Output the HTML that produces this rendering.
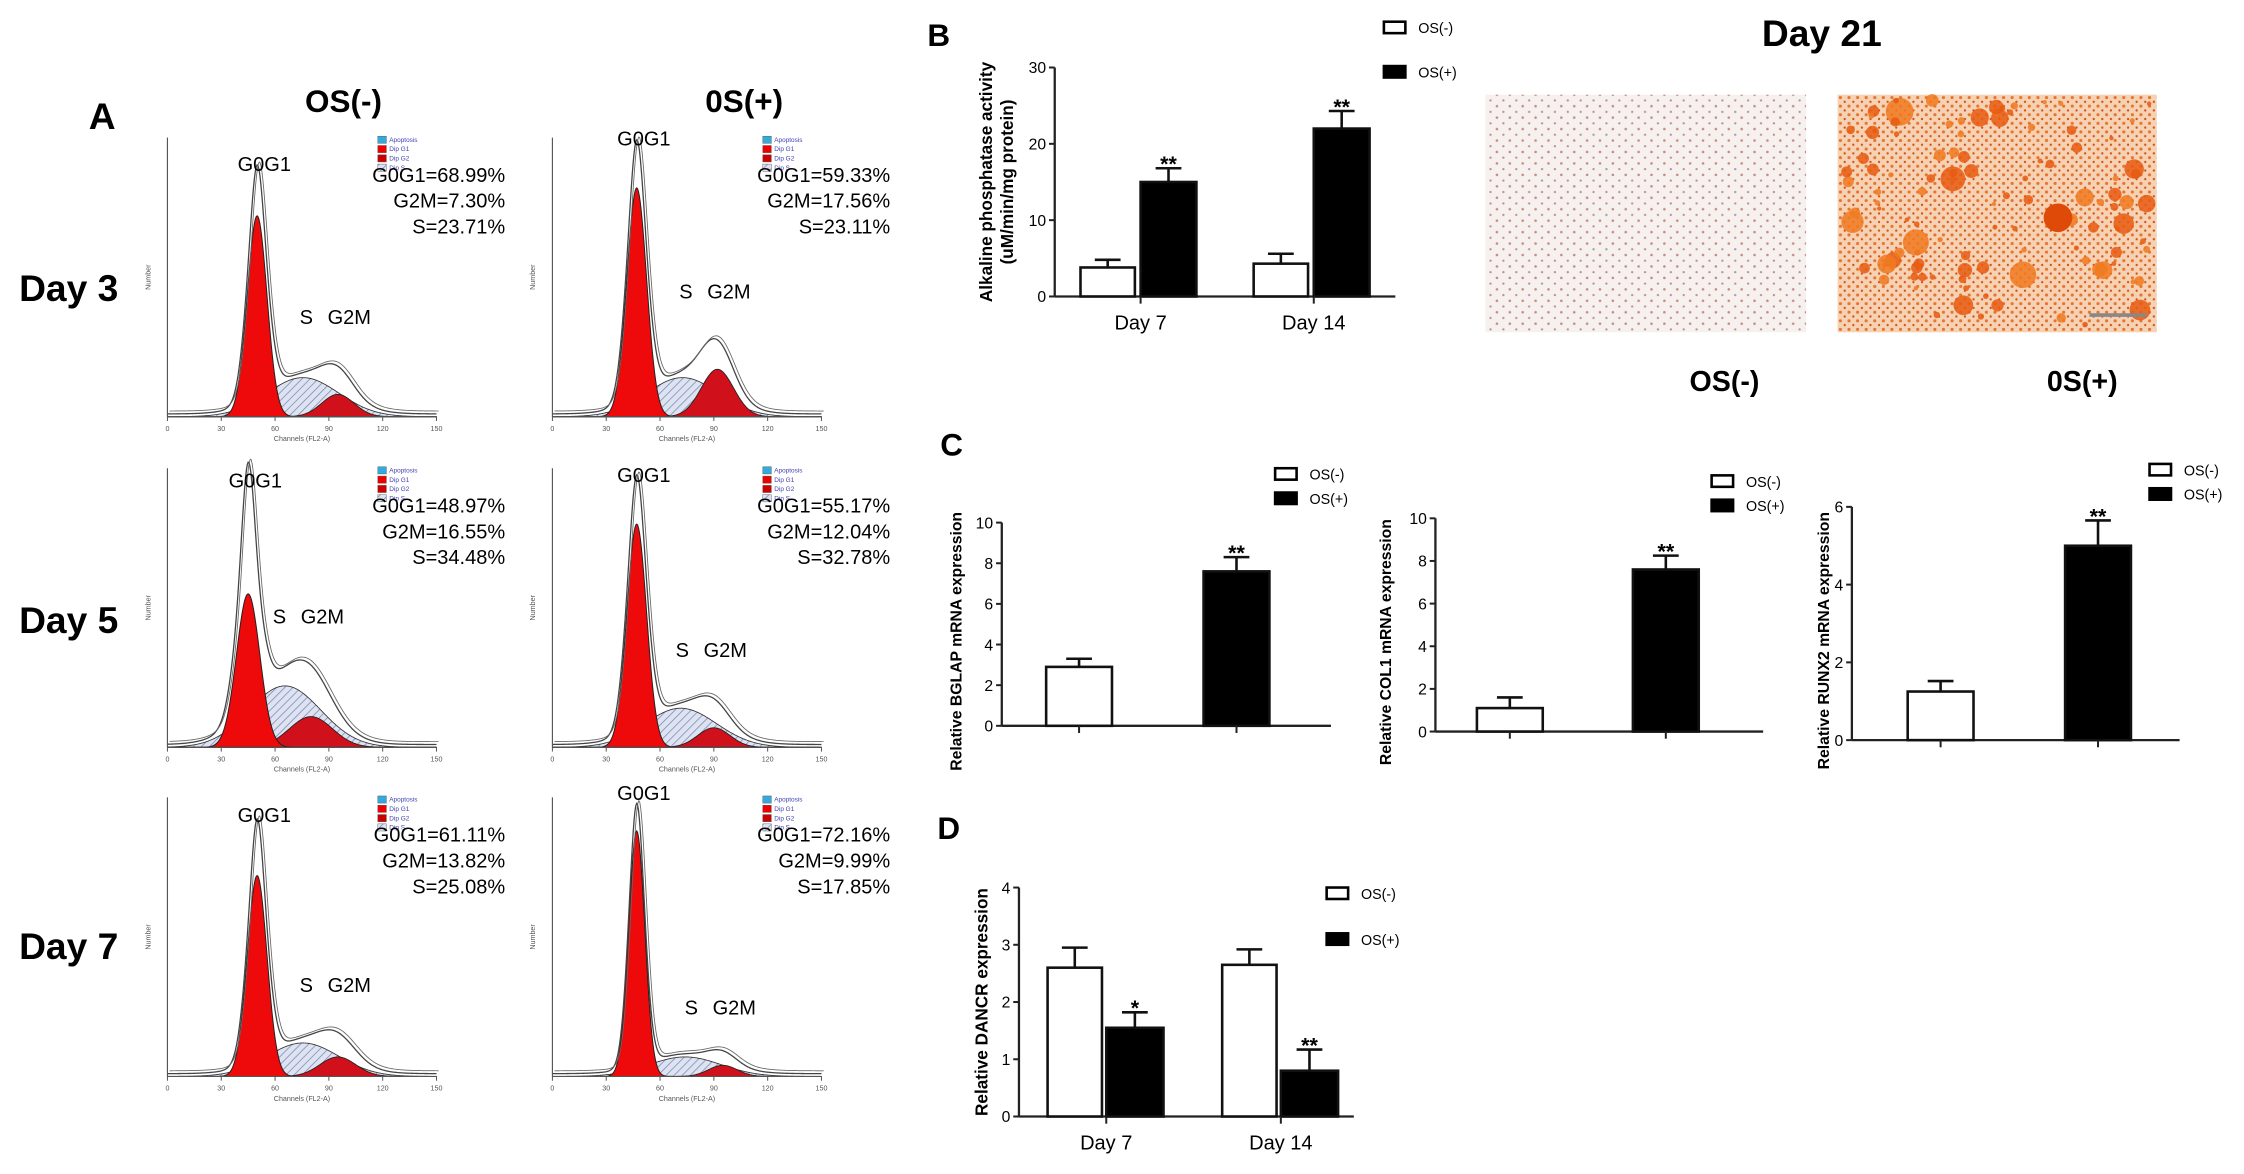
<!DOCTYPE html>
<html><head><meta charset="utf-8"><style>
html,body{margin:0;padding:0;background:#fff;}
svg{display:block;font-family:"Liberation Sans",Arial,sans-serif;}
</style></head><body>
<svg id="fig" width="2244" height="1174" viewBox="0 0 1568 820" xmlns="http://www.w3.org/2000/svg">
<defs>
<pattern id="hatch" patternUnits="userSpaceOnUse" width="4" height="4" patternTransform="rotate(45)">
<rect width="4" height="4" fill="#dde3f0"/><line x1="0" y1="0" x2="0" y2="4" stroke="#7784b0" stroke-width="1"/></pattern>
<pattern id="dots" patternUnits="userSpaceOnUse" width="9" height="8">
<rect width="9" height="8" fill="#f6f1ee"/><circle cx="2" cy="2" r="0.9" fill="#c58a80"/><circle cx="6.5" cy="6" r="0.8" fill="#b89090"/></pattern>
<pattern id="dots2" patternUnits="userSpaceOnUse" width="6" height="6">
<rect width="6" height="6" fill="#f6d2b4"/><circle cx="2" cy="2" r="1.1" fill="#e8742c"/><circle cx="5" cy="5" r="0.8" fill="#d0501a"/></pattern>
</defs>
<g id="root"></g>
</svg>
<script>
// ---- Panel A flow-cytometry parameters [G0G1 center, G0G1 height, G0G1 sd, outline peak, S height, G2M center, G2M height, G2M sd]
const histParams = [
 [50,0.72,5.5,0.83,0.14,95,0.08,9],[47,0.82,5.5,0.92,0.14,92,0.17,9],
 [45,0.55,6.5,0.88,0.22,80,0.11,12],[47,0.80,5.5,0.90,0.14,90,0.07,9],
 [50,0.72,5.5,0.86,0.12,95,0.07,10],[47,0.88,4.5,0.94,0.07,95,0.04,8]];
const statsText = [
 ["G0G1=68.99%","G2M=7.30%","S=23.71%"],["G0G1=59.33%","G2M=17.56%","S=23.11%"],
 ["G0G1=48.97%","G2M=16.55%","S=34.48%"],["G0G1=55.17%","G2M=12.04%","S=32.78%"],
 ["G0G1=61.11%","G2M=13.82%","S=25.08%"],["G0G1=72.16%","G2M=9.99%","S=17.85%"]];
const chanTicks = [0,30,60,90,120,150];
// ---- Panel B ALP
const alpCats = ["Day 7","Day 14"];
const alpNeg = [3.8,4.3], alpNegErr=[4.8,5.6];
const alpPos = [15,22], alpPosErr=[16.8,24.3];
const alpTicks=[0,10,20,30];
// ---- Panel C
const cTitles=["Relative BGLAP mRNA expression","Relative COL1 mRNA expression","Relative RUNX2 mRNA expression"];
const cNeg=[2.9,1.1,1.25], cNegErr=[3.3,1.6,1.52];
const cPos=[7.6,7.6,5.0], cPosErr=[8.3,8.25,5.65];
const cTicks=[[0,2,4,6,8,10],[0,2,4,6,8,10],[0,2,4,6]];
// ---- Panel D
const dCats=["Day 7","Day 14"];
const dNeg=[2.6,2.65], dNegErr=[2.95,2.92];
const dPos=[1.55,0.8], dPosErr=[1.82,1.17];
const dStars=["*","**"];
const dTicks=[0,1,2,3,4];

const NS="http://www.w3.org/2000/svg";
const root=document.getElementById('root');
function el(tag,attrs,parent,text){const e=document.createElementNS(NS,tag);for(const k in attrs)e.setAttribute(k,attrs[k]);if(text!==undefined)e.textContent=text;(parent||root).appendChild(e);return e;}

let t;
t=el('text',{x:62,y:90,'font-size':26,'font-weight':'bold'},root,'A');

t=el('text',{x:240,y:78,'font-size':22,'font-weight':'bold','text-anchor':'middle'},root,'OS(-)');

t=el('text',{x:520,y:78,'font-size':22,'font-weight':'bold','text-anchor':'middle'},root,'0S(+)');

const dayRows=["Day 3","Day 5","Day 7"], dayY=[210,442,670];
dayRows.forEach((d,i)=>{t=el('text',{x:48,y:dayY[i],'font-size':26,'font-weight':'bold','text-anchor':'middle'},root,d);
});

const colX=[117,386], rowBase=[291,522,752], PW=188, PH=195;
function gauss(x,c,s){return Math.exp(-0.5*((x-c)/s)**2);}
histParams.forEach((p,idx)=>{
 const r=Math.floor(idx/2), c=idx%2, x0=colX[c], yb=rowBase[r];
 const g=el('g',{},root);
 
 const X=ch=>x0+ch/150*PW, Y=v=>yb-v*PH;
 const [gc,gh,gs,op,sh,g2c,g2h,g2s]=p;
 const sFun=ch=>sh*gauss(ch,(gc+g2c)/2+3,20);
 const mk=f=>{let d=`M${X(0)},${yb}`;for(let ch=0;ch<=150;ch+=0.5)d+=` L${X(ch).toFixed(2)},${Y(f(ch)).toFixed(2)}`;return d+` L${X(150)},${yb}Z`;};
 let e=el('path',{d:mk(sFun),fill:'url(#hatch)',stroke:'#333','stroke-width':0.6},g);
 
 e=el('path',{d:mk(ch=>g2h*gauss(ch,g2c,g2s)),fill:'#d0101a',stroke:'#222','stroke-width':0.6},g);
 
 e=el('path',{d:mk(ch=>gh*gauss(ch,gc,gs)),fill:'#ee0a0a',stroke:'#222','stroke-width':0.7},g);
 
 const tot=ch=>gh*gauss(ch,gc,gs)+(op-gh)*gauss(ch,gc,gs*0.5)+sFun(ch)+g2h*gauss(ch,g2c,g2s)*1.05+0.01;
 let d='';for(let ch=0;ch<=150;ch+=0.5)d+=(ch?' L':'M')+X(ch).toFixed(2)+','+Y(tot(ch)).toFixed(2);
 e=el('path',{d:d,fill:'none',stroke:'#444','stroke-width':0.9},g);
 
 el('path',{d:d,fill:'none',stroke:'#666','stroke-width':0.6,transform:'translate(1.5,-2)'},g);
 el('line',{x1:x0,y1:yb,x2:x0+PW,y2:yb,stroke:'#555','stroke-width':0.8},g);
 el('line',{x1:x0,y1:yb,x2:x0,y2:yb-PH,stroke:'#555','stroke-width':0.8},g);
 chanTicks.forEach(v=>{el('line',{x1:X(v),y1:yb,x2:X(v),y2:yb+3,stroke:'#555','stroke-width':0.7},g);
  el('text',{x:X(v),y:yb+10,'font-size':5,'text-anchor':'middle',fill:'#555'},g,v);});
 el('text',{x:x0+PW/2,y:yb+17,'font-size':5,'text-anchor':'middle',fill:'#555'},g,'Channels (FL2-A)');
 el('text',{x:0,y:0,'font-size':5,'text-anchor':'middle',fill:'#555',transform:`translate(${x0-12},${yb-PH/2}) rotate(-90)`},g,'Number');
 el('text',{x:X(gc)+5,y:Y(op)-10,'font-size':14,'text-anchor':'middle'},g,'G0G1');
 el('text',{x:X(g2c)-22,y:Y(sh+g2h)-22,'font-size':14,'text-anchor':'middle'},g,'S');
 el('text',{x:X(g2c)+8,y:Y(sh+g2h)-22,'font-size':14,'text-anchor':'middle'},g,'G2M');
 const lc=['#3ad','#e00','#c00','url(#hatch)'], ln=['Apoptosis','Dip G1','Dip G2','Dip S'];
 lc.forEach((col,k)=>{el('rect',{x:x0+147,y:yb-196+k*6.5,width:6,height:5,fill:col,stroke:'#555','stroke-width':0.3},g);
  el('text',{x:x0+155,y:yb-192+k*6.5,'font-size':4.5,fill:'#4040b0'},g,ln[k]);});
 statsText[idx].forEach((s,k)=>{const tt=el('text',{x:x0+236,y:yb-164+k*18,'font-size':14,'text-anchor':'end'},g,s);
  });
});

function barChart(o){
 const g=el('g',{},root);
 
 const ymax=o.ticks[o.ticks.length-1];
 const Y=v=>o.y0-(v/ymax)*(o.y0-o.ytop);
 el('line',{x1:o.ax,y1:o.y0,x2:o.ax,y2:o.ytop,stroke:'#222','stroke-width':1.6},g);
 el('line',{x1:o.ax,y1:o.y0,x2:o.xend,y2:o.y0,stroke:'#222','stroke-width':1.6},g);
 o.ticks.forEach(v=>{el('line',{x1:o.ax-4,y1:Y(v),x2:o.ax,y2:Y(v),stroke:'#222','stroke-width':1.4},g);
  el('text',{x:o.ax-6,y:Y(v)+4,'font-size':11,'text-anchor':'end'},g,v);});
 o.bars.forEach(b=>{
  const r=el('rect',{x:b.x,y:Y(b.v),width:b.w,height:o.y0-Y(b.v),fill:b.fill,stroke:'#111','stroke-width':1.8},g);
  
  const cx=b.x+b.w/2;
  el('line',{x1:cx,y1:Y(b.v),x2:cx,y2:Y(b.e),stroke:'#111','stroke-width':1.8},g);
  el('line',{x1:cx-9,y1:Y(b.e),x2:cx+9,y2:Y(b.e),stroke:'#111','stroke-width':1.8},g);
  if(b.star)el('text',{x:cx,y:Y(b.e)+2,'font-size':15,'font-weight':'bold','text-anchor':'middle'},g,b.star);
 });
 (o.xticks||[]).forEach(x=>el('line',{x1:x,y1:o.y0,x2:x,y2:o.y0+5,stroke:'#222','stroke-width':1.4},g));
 (o.xlabels||[]).forEach(l=>el('text',{x:l.x,y:o.y0+23,'font-size':14,'text-anchor':'middle'},g,l.t));
 o.ytitle.forEach((s,k)=>{const tt=el('text',{x:0,y:0,'font-size':o.tfs||12,'font-weight':'bold','text-anchor':'middle',transform:`translate(${o.tx+k*15},${o.ty}) rotate(-90)`},g,s);
  });
 o.legend.forEach((L,k)=>{
  const lg=el('g',{},g);
  el('rect',{x:L.x,y:L.y-5,width:15,height:8,fill:k?'#000':'#fff',stroke:'#000','stroke-width':1.8},lg);
  el('text',{x:L.x+24,y:L.y+3,'font-size':10},lg,k?'OS(+)':'OS(-)');});
}

t=el('text',{x:648,y:32,'font-size':22,'font-weight':'bold'},root,'B');

{const bars=[];const gx=[755,876];
 alpCats.forEach((c,i)=>{bars.push({x:gx[i],w:38,v:alpNeg[i],e:alpNegErr[i],fill:'#fff',name:'bar-alp-neg-'+i});
  bars.push({x:gx[i]+42,w:39,v:alpPos[i],e:alpPosErr[i],fill:'#000',star:'**',name:'bar-alp-pos-'+i});});
 barChart({name:'alp-chart',ax:737,y0:207,ytop:47,xend:975,ticks:alpTicks,bars,xticks:[797,918],
  xlabels:alpCats.map((c,i)=>({x:gx[i]+42,t:c})),ytitle:['Alkaline phosphatase activity','(uM/min/mg protein)'],tx:693,ty:127,
  legend:[{x:967,y:20},{x:967,y:51}]});}
t=el('text',{x:1273,y:32,'font-size':26,'font-weight':'bold','text-anchor':'middle'},root,'Day 21');

t=el('rect',{x:1038,y:66,width:224,height:166,fill:'url(#dots)'});

t=el('rect',{x:1284,y:66,width:223,height:166,fill:'url(#dots2)'});

{let s=7;const rnd=()=>{s=(s*9301+49297)%233280;return s/233280;};
 const bg=el('g',{},root);
 for(let i=0;i<110;i++){const x=1290+rnd()*212,y=70+rnd()*158,r=1.5+rnd()*rnd()*9;
  el('circle',{cx:x,cy:y,r:r,fill:rnd()>0.4?'#e85a10':'#f07a20',opacity:0.85},bg);}
 el('circle',{cx:1438,cy:152,r:10,fill:'#e04a08'},bg);
 el('line',{x1:1460,y1:220,x2:1500,y2:220,stroke:'#888','stroke-width':2.5},bg);}
t=el('text',{x:1205,y:273,'font-size':20,'font-weight':'bold','text-anchor':'middle'},root,'OS(-)');

t=el('text',{x:1455,y:273,'font-size':20,'font-weight':'bold','text-anchor':'middle'},root,'0S(+)');


t=el('text',{x:657,y:318,'font-size':22,'font-weight':'bold'},root,'C');

const cGeo=[{ax:700,y0:507,ytop:365,xend:930,wx:731,bx:841,tx:672,lx:891,ly:332},
 {ax:1003,y0:511,ytop:362,xend:1232,wx:1032,bx:1141,tx:972,lx:1196,ly:337},
 {ax:1294,y0:517,ytop:354,xend:1523,wx:1333,bx:1443,tx:1278,lx:1502,ly:329}];
cTitles.forEach((title,i)=>{const G=cGeo[i];
 barChart({name:'c-chart-'+(i+1),ax:G.ax,y0:G.y0,ytop:G.ytop,xend:G.xend,ticks:cTicks[i],tfs:11,
  bars:[{x:G.wx,w:46,v:cNeg[i],e:cNegErr[i],fill:'#fff',name:'bar-c-neg-'+i},{x:G.bx,w:46,v:cPos[i],e:cPosErr[i],fill:'#000',star:'**',name:'bar-c-pos-'+i}],
  xticks:[G.wx+23,G.bx+23],ytitle:[title],tx:G.tx,ty:(G.y0+G.ytop)/2+12,legend:[{x:G.lx,y:G.ly},{x:G.lx,y:G.ly+17}]});});

t=el('text',{x:655,y:586,'font-size':22,'font-weight':'bold'},root,'D');

{const bars=[];const gx=[732,854];
 dCats.forEach((c,i)=>{bars.push({x:gx[i],w:38,v:dNeg[i],e:dNegErr[i],fill:'#fff',name:'bar-d-neg-'+i});
  bars.push({x:gx[i]+41,w:40,v:dPos[i],e:dPosErr[i],fill:'#000',star:dStars[i],name:'bar-d-pos-'+i});});
 barChart({name:'dancr-chart',ax:712,y0:780,ytop:620,xend:946,ticks:dTicks,bars,xticks:[773,895],
  xlabels:dCats.map((c,i)=>({x:gx[i]+41,t:c})),ytitle:['Relative DANCR expression'],tx:690,ty:700,
  legend:[{x:927,y:625},{x:927,y:657}]});}
</script>
</body></html>
